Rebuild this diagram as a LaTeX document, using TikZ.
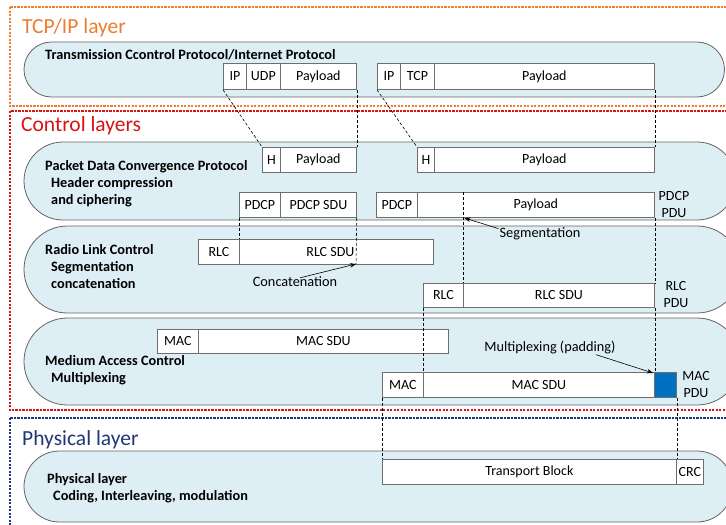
\documentclass[tikz,border=0pt]{standalone}
\usepackage{fontspec}
\setmainfont{Carlito}
\usetikzlibrary{arrows.meta}

\definecolor{tcporange}{RGB}{237,125,49}
\definecolor{ctrlred}{RGB}{214,20,20}
\definecolor{phyblue}{RGB}{32,56,120}
\definecolor{layerfill}{RGB}{222,238,245}
\definecolor{layerline}{RGB}{100,100,100}
\definecolor{cellline}{RGB}{110,110,110}
\definecolor{padblue}{RGB}{0,112,192}

\tikzset{
  frame/.style={line width=1.3pt, dash pattern=on 2.2pt off 1.3pt},
  heading/.style={anchor=west, inner sep=0pt, font=\fontsize{21.5}{24}\selectfont},
  lane/.style={draw=layerline, fill=layerfill, line width=0.8pt},
  title/.style={anchor=west, inner sep=0pt, align=left, font=\bfseries\fontsize{14.3}{17}\selectfont},
  cell/.style={draw=cellline, fill=white, line width=0.8pt, inner sep=0pt,
    anchor=north west, font=\fontsize{14}{16}\selectfont},
  lbl/.style={inner sep=0pt, font=\fontsize{14.3}{16}\selectfont},
  pdulbl/.style={inner sep=0pt, align=center, font=\fontsize{14}{17}\selectfont},
  guide/.style={black, line width=0.6pt, dash pattern=on 3pt off 2pt},
  pointer/.style={black, line width=0.6pt, -{Stealth[length=6pt,width=4.5pt]}}
}

% rounded lane from top #1 to bottom #2
\newcommand\lane[2]{%
  \pgfmathsetmacro\lanery{(#2-#1)/2}%
  \pgfmathsetmacro\lanelx{24+\lanery}%
  \draw[lane] (\lanelx,#1) -- (697,#1)
    arc[start angle=-90, end angle=90, x radius=\lanery, y radius=\lanery]
    -- (\lanelx,#2)
    arc[start angle=90, end angle=270, x radius=\lanery, y radius=\lanery] -- cycle;}

% protocol data unit cell: name, x1, y1, x2, y2, text
\newcommand\pducell[6]{%
  \node[cell, minimum width={(#4-#2)*1pt}, minimum height={(#5-#3)*1pt}] (#1) at (#2,#3) {#6};}

\begin{document}
\begin{tikzpicture}[x=1pt,y=-1pt]
\useasboundingbox (0,0) rectangle (726,525);
\clip (0,0) rectangle (726,525);
\fill[white] (0,0) rectangle (726,525);

% layer frames
\draw[frame, tcporange] (10,7) rectangle (740,106);
\draw[frame, ctrlred] (10,111) rectangle (740,410);
\draw[frame, phyblue] (10,418) rectangle (740,545);
\node[heading, text=tcporange] (hTcp) at (22,28) {TCP/IP layer};
\node[heading, text=ctrlred] (hCtrl) at (21,126) {Control layers};
\node[heading, text=phyblue] (hPhy) at (22,440) {Physical layer};

% protocol lanes
\lane{42}{97}
\lane{142}{220}
\lane{226}{313}
\lane{318}{405}
\lane{451}{522}

\node[title] (tTcp) at (45,55) {Transmission Ccontrol Protocol/Internet Protocol};
\node[title] (tPdcp) at (45,184) {Packet Data Convergence Protocol\\\hspace*{6pt}Header compression\\\hspace*{6pt}and ciphering};
\node[title] (tRlc) at (45,267) {Radio Link Control\\\hspace*{6pt}Segmentation\\\hspace*{6pt}concatenation};
\node[title] (tMac) at (45,370) {Medium Access Control\\\hspace*{6pt}Multiplexing};
\node[title] (tPhy) at (47,488) {Physical layer\\\hspace*{6pt}Coding, Interleaving, modulation};

% guides between layers
\coordinate (cattip) at (356,264);
\coordinate (segtop) at (463,192);
\coordinate (segtip) at (463,218);

% IP packets
\pducell{ip1}{223}{63}{246}{89}{IP}
\pducell{udp1}{246}{63}{280}{89}{UDP}
\pducell{pay1}{280}{63}{356}{89}{Payload}
\pducell{ip2}{377}{63}{400}{89}{IP}
\pducell{tcp2}{400}{63}{434}{89}{TCP}
\pducell{pay2}{434}{63}{654}{89}{Payload}

% PDCP
\pducell{h1}{262}{147}{280}{172}{H}
\pducell{hp1}{280}{147}{356}{172}{Payload}
\pducell{h2}{417}{147}{434}{172}{H}
\pducell{hp2}{434}{147}{654}{172}{Payload}
\pducell{pdcp1}{239}{192}{280}{217}{PDCP}
\pducell{pdcpsdu1}{280}{192}{356}{217}{PDCP SDU}
\pducell{pdcp2}{376}{192}{417}{217}{PDCP}
\pducell{pay4}{417}{192}{654}{217}{Payload}
\node[pdulbl] (pdcppdu) at (674,205) {PDCP\\PDU};

% RLC
\pducell{rlc1}{198}{239}{239}{264}{RLC}
\pducell{rlcsdu1}{239}{239}{433}{264}{\hspace*{-12pt}RLC SDU}
\pducell{rlc2}{423}{283}{463}{307}{RLC}
\pducell{rlcsdu2}{463}{283}{654}{307}{RLC SDU}
\node[pdulbl] (rlcpdu) at (676,295) {RLC\\PDU};

% MAC
\pducell{mac1}{157}{329}{198}{353}{MAC}
\pducell{macsdu1}{198}{329}{448}{353}{MAC SDU}
\pducell{mac2}{382}{372}{423}{397}{MAC}
\pducell{macsdu2}{423}{372}{654}{397}{MAC SDU}
\node[draw=cellline, fill=padblue, line width=0.8pt, inner sep=0pt, anchor=north west,
  minimum width=22pt, minimum height=25pt] (pad) at (654,372) {};
\node[pdulbl] (macpdu) at (696,385) {MAC\\PDU};

% physical layer
\pducell{tb}{382}{459}{676}{484}{Transport Block}
\pducell{crc}{676}{459}{703}{484}{CRC}

% mapping guides
\draw[guide] (ip1.south west) -- (h1.north west);
\draw[guide] (pay1.south east) -- (hp1.north east);
\draw[guide] (ip2.south west) -- (h2.north west);
\draw[guide] (pay2.south east) -- (hp2.north east);
\draw[guide] (pdcp1.south west) -- (rlcsdu1.north west);
\draw[guide] (pdcpsdu1.south east) -- (cattip);
\draw[guide] (segtop) -- (rlcsdu2.north west);
\draw[guide] (pay4.south east) -- (rlcsdu2.north east);
\draw[guide] (rlc2.south west) -- (macsdu2.north west);
\draw[guide] (rlcsdu2.south east) -- (macsdu2.north east);
\draw[guide] (mac2.south west) -- (tb.north west);
\draw[guide] (pad.south east) -- (tb.north east);

% annotations
\node[lbl] (concat) at (295,282) {Concatenation};
\node[lbl] (segm) at (540,234) {Segmentation};
\node[lbl] (mux) at (550,347) {Multiplexing (padding)};
\draw[pointer] ([xshift=5pt,yshift=-1pt]concat.north) -- (cattip);
\draw[pointer] ([xshift=-1pt,yshift=-1pt]segm.north west) -- ([xshift=1.5pt]segtip);
\draw[pointer] ([xshift=46pt,yshift=-1pt]mux.south) -- ([xshift=-1pt,yshift=-1pt]pad.north west);
\end{tikzpicture}
\end{document}
